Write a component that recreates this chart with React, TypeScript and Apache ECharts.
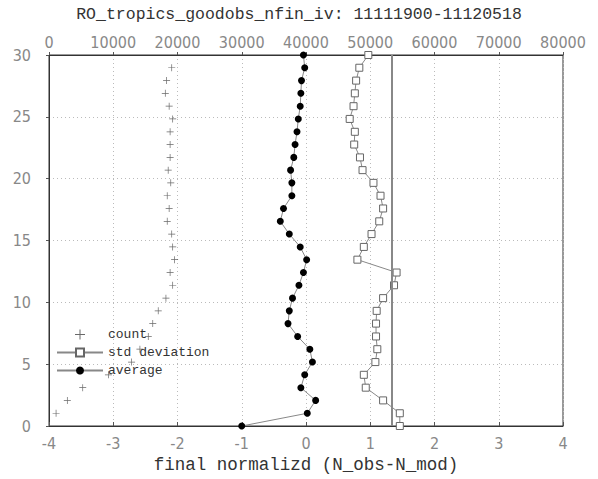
import React, { useEffect, useRef } from "react";
import * as echarts from "echarts";

// vertical levels (axis units) of the profile points
const levels = [
  0, 1.03, 2.07, 3.1, 4.14, 5.17, 6.21, 7.24, 8.28, 9.31, 10.34, 11.38, 12.41, 13.45, 14.48,
  15.52, 16.55, 17.59, 18.62, 19.66, 20.69, 21.72, 22.76, 23.79, 24.83, 25.86, 26.9, 27.93, 28.97, 30,
];
// count exists on levels 1..28
const countLevels = [
  1.03, 2.07, 3.1, 4.14, 5.17, 6.21, 7.24, 8.28, 9.31, 10.34, 11.38, 12.41, 13.45, 14.48,
  15.52, 16.55, 17.59, 18.62, 19.66, 20.69, 21.72, 22.76, 23.79, 24.83, 25.86, 26.9, 27.93, 28.97,
];
const countValues = [
  1100, 2850, 5250, 9250, 12850, 14150, 15450, 16150, 17000, 18200, 19250, 18850, 19550, 19250,
  19100, 18400, 18700, 18400, 18950, 18550, 18850, 18850, 18850, 19250, 18700, 18100, 18300, 19100,
];
const averageValues = [
  -1.0, 0.02, 0.15, -0.08, -0.02, 0.1, 0.06, -0.13, -0.28, -0.26, -0.21, -0.11, -0.04, 0.01, -0.09,
  -0.26, -0.4, -0.35, -0.22, -0.22, -0.24, -0.19, -0.17, -0.14, -0.12, -0.09, -0.08, -0.07, -0.02, -0.04,
];
const stdValues = [
  1.46, 1.46, 1.2, 0.93, 0.9, 1.08, 1.11, 1.09, 1.09, 1.1, 1.2, 1.37, 1.41, 0.8, 0.9,
  1.02, 1.14, 1.2, 1.16, 1.05, 0.88, 0.84, 0.75, 0.76, 0.68, 0.74, 0.76, 0.78, 0.83, 0.97,
];
const stdReference = 1.33;

const titleText = "RO_tropics_goodobs_nfin_iv: 11111900-11120518";
const xName = "final normalizd (N_obs-N_mod)";

const mono = "'Liberation Mono', 'DejaVu Sans Mono', monospace";
const tickFont = "'Liberation Sans Narrow', 'DejaVu Sans Condensed', 'Liberation Sans', sans-serif";

export default function App() {
  const ref = useRef<HTMLDivElement>(null);
  useEffect(() => {
    document.body.style.margin = "0";
    if (!ref.current) return;
    const chart = echarts.init(ref.current, undefined, { renderer: "svg" });
    const plus = "path://M4.5,0h1v10h-1zM0,4.5h10v1h-10z";
    const tickLabel = { color: "#888", fontFamily: tickFont, fontSize: 16 };
    chart.setOption({
      animation: false,
      backgroundColor: "#fff",
      title: {
        text: titleText,
        left: "center",
        top: 1,
        textStyle: { fontFamily: mono, fontSize: 16.5, fontWeight: "normal", color: "#333" },
      },
      legend: {
        orient: "vertical",
        left: 51,
        top: 323,
        itemWidth: 46,
        itemHeight: 10,
        itemGap: 5,
        textStyle: { fontFamily: mono, fontSize: 13, color: "#333" },
        data: ["count", "std deviation", "average"],
      },
      grid: {
        left: 49,
        right: 35,
        top: 55,
        bottom: 49,
        show: true,
        borderColor: "#333",
        borderWidth: 1,
      },
      xAxis: [
        {
          type: "value",
          position: "bottom",
          min: -4,
          max: 4,
          interval: 1,
          axisLine: { show: true, onZero: false, lineStyle: { color: "#333" } },
          axisTick: { show: true, inside: true, length: 4, lineStyle: { color: "#555" } },
          axisLabel: { ...tickLabel, margin: 9 },
          splitLine: { show: true, lineStyle: { color: "#bbb", type: [1, 3] } },
          name: xName,
          nameLocation: "middle",
          nameGap: 30,
          nameTextStyle: { fontFamily: mono, fontSize: 17.5, color: "#333" },
        },
        {
          type: "value",
          position: "top",
          min: 0,
          max: 80000,
          interval: 10000,
          axisLine: { show: true, onZero: false, lineStyle: { color: "#333" } },
          axisTick: { show: true, inside: false, length: 3, lineStyle: { color: "#555" } },
          axisLabel: { ...tickLabel, margin: 5, formatter: (v: number) => String(v) },
          splitLine: { show: false },
        },
      ],
      yAxis: {
        type: "value",
        min: 0,
        max: 30,
        interval: 5,
        axisLine: { show: true, onZero: false, lineStyle: { color: "#333" } },
        axisTick: { show: true, length: 3, lineStyle: { color: "#555" } },
        axisLabel: { ...tickLabel, margin: 18 },
        splitLine: { show: true, lineStyle: { color: "#bbb", type: [1, 3] } },
      },
      series: [
        {
          name: "count",
          type: "scatter",
          xAxisIndex: 1,
          yAxisIndex: 0,
          symbol: plus,
          symbolSize: 7,
          itemStyle: { color: "#444" },
          data: countValues.map((v, i) => [v, countLevels[i]]),
        },
        {
          name: "std deviation",
          type: "line",
          xAxisIndex: 0,
          yAxisIndex: 0,
          symbol: "rect",
          symbolSize: 7,
          showAllSymbol: true,
          itemStyle: { color: "#fff", borderColor: "#666", borderWidth: 1 },
          lineStyle: { color: "#888", width: 1 },
          data: stdValues.map((v, i) => [v, levels[i]]),
          markLine: {
            silent: true,
            symbol: ["none", "none"],
            label: { show: false },
            lineStyle: { color: "#888", width: 2, type: "solid" },
            data: [{ xAxis: stdReference }],
          },
        },
        {
          name: "average",
          type: "line",
          xAxisIndex: 0,
          yAxisIndex: 0,
          symbol: "circle",
          symbolSize: 7,
          showAllSymbol: true,
          itemStyle: { color: "#000" },
          lineStyle: { color: "#888", width: 1 },
          data: averageValues.map((v, i) => [v, levels[i]]),
        },
      ],
    });
    return () => chart.dispose();
  }, []);
  return <div ref={ref} style={{ width: 598, height: 479 }} />;
}
